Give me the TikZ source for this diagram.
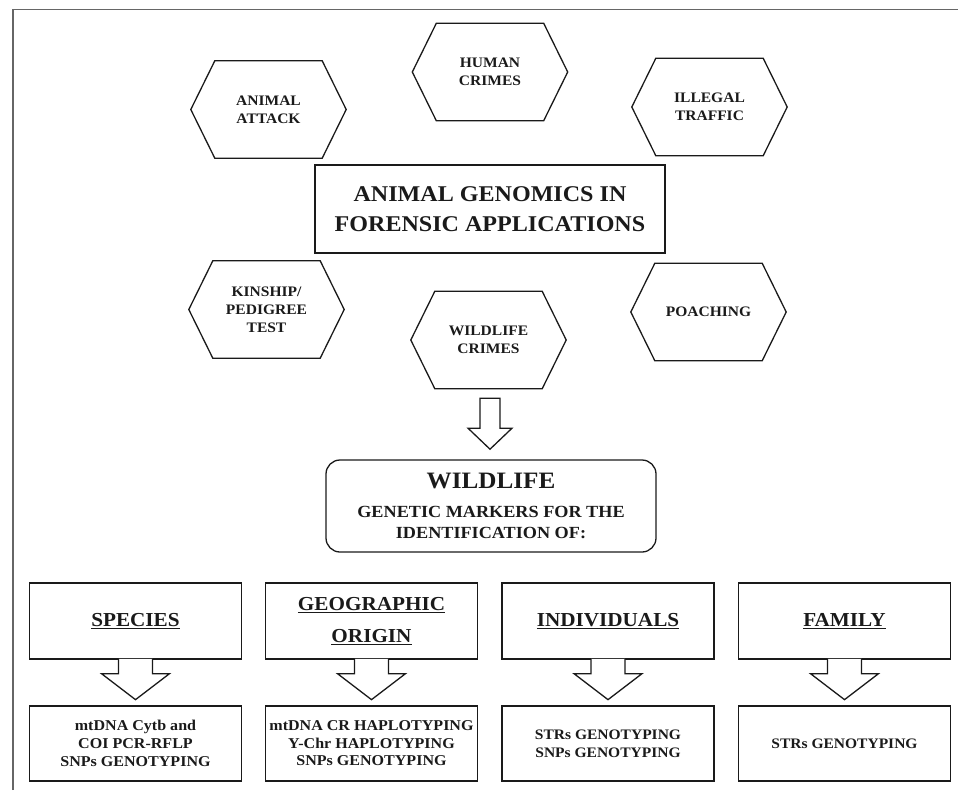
\documentclass[tikz,border=0pt]{standalone}
\usepackage{fontspec}
\setmainfont{Liberation Serif}[FakeStretch=1.07]
\usetikzlibrary{calc}
\definecolor{ink}{HTML}{1A1A1A}
\begin{document}
\begin{tikzpicture}[x=1pt,y=-1pt,line join=miter,
  hexa/.style={minimum width=155pt,minimum height=97pt,inner sep=0pt,align=center,
    text=ink,font=\bfseries\fontsize{14.5}{18}\selectfont},
  hexline/.style={draw=ink,line width=1.3pt},
  titlebox/.style={draw=ink,line width=2.8pt,minimum width=350pt,minimum height=88pt,
    inner sep=0pt,align=center,text=ink,font=\bfseries\fontsize{22.5}{30}\selectfont},
  wildbox/.style={draw=ink,line width=1.3pt,rounded corners=14pt,minimum width=330pt,
    minimum height=92pt,inner sep=0pt,align=center,text=ink,
    font=\bfseries\fontsize{17}{21}\selectfont},
  catbox/.style={draw=ink,line width=1.3pt,minimum width=212pt,minimum height=76pt,
    inner sep=0pt,align=center,text=ink,font=\bfseries\fontsize{19.8}{32}\selectfont},
  methbox/.style={draw=ink,line width=1.3pt,minimum width=212pt,minimum height=75pt,
    inner sep=0pt,align=center,text=ink,font=\bfseries\fontsize{15}{18}\selectfont},
  blockarrow/.style={draw=ink,line width=1.3pt}
]
\useasboundingbox (0,0) rectangle (958,790);
% frame
\draw[gray!80!black,line width=1.5pt] (13,790) -- (13,9.5) -- (958,9.5);

% hexagons
\node[hexa] (aa) at (268.5,109.5) {ANIMAL\\ATTACK};
\node[hexa] (hc) at (490,72) {HUMAN\\CRIMES};
\node[hexa] (it) at (709.5,107) {ILLEGAL\\TRAFFIC};
\node[hexa] (kp) at (266.5,309.5) {KINSHIP/\\PEDIGREE\\TEST};
\node[hexa] (wc) at (488.5,340) {WILDLIFE\\CRIMES};
\node[hexa] (po) at (708.5,312) {POACHING};
\foreach \n in {aa,hc,it,kp,wc,po}
  \draw[hexline] (\n.west) -- ($(\n.north west)+(24,0)$) -- ($(\n.north east)+(-24,0)$)
    -- (\n.east) -- ($(\n.south east)+(-24,0)$) -- ($(\n.south west)+(24,0)$) -- cycle;

% title
\node[titlebox] (tt) at (490,209) {ANIMAL GENOMICS IN\\FORENSIC APPLICATIONS};

% wildlife box
\node[wildbox] (wl) at (491,506) {{\fontsize{23.5}{26}\selectfont WILDLIFE}\\[8pt]GENETIC MARKERS FOR THE\\IDENTIFICATION OF:};

% arrow wildlife crimes -> wildlife
\coordinate (t1) at ($(wc.south)+(1.5,9.5)$);
\draw[blockarrow,fill=white] ($(t1)+(-10,0)$) -- ($(t1)+(-10,30)$) -- ($(t1)+(-22,30)$)
  -- ($(t1)+(0,51)$) -- ($(t1)+(22,30)$) -- ($(t1)+(10,30)$) -- ($(t1)+(10,0)$) -- cycle;

% categories
\node[catbox] (sp) at (135.5,621) {\underline{SPECIES}};
\node[catbox] (go) at (371.5,621) {\underline{GEOGRAPHIC}\\\underline{ORIGIN}};
\node[catbox] (in) at (608,621) {\underline{INDIVIDUALS}};
\node[catbox] (fa) at (844.5,621) {\underline{FAMILY}};

% methods
\node[methbox] (sp2) at (135.5,743.5) {mtDNA Cytb and\\COI PCR-RFLP\\SNPs GENOTYPING};
\node[methbox,font=\bfseries\fontsize{15}{17.5}\selectfont] (go2) at (371.5,743.5) {mtDNA CR HAPLOTYPING\\Y-Chr HAPLOTYPING\\SNPs GENOTYPING};
\node[methbox,font=\bfseries\fontsize{14.5}{18}\selectfont] (in2) at (608,743.5) {STRs GENOTYPING\\SNPs GENOTYPING};
\node[methbox,font=\bfseries\fontsize{14.5}{18}\selectfont] (fa2) at (844.5,743.5) {STRs GENOTYPING};

% merged block arrows
\foreach \c in {sp,go,in,fa} {
  \path[fill=white] ($(\c.south)+(-17,-0.8)$) -- ($(\c.south)+(-17,14)$) -- ($(\c.south)+(-34,14)$)
    -- ($(\c.south)+(0,40)$) -- ($(\c.south)+(34,14)$) -- ($(\c.south)+(17,14)$)
    -- ($(\c.south)+(17,-0.8)$) -- cycle;
  \draw[blockarrow] ($(\c.south)+(-17,-0.65)$) -- ($(\c.south)+(-17,14)$) -- ($(\c.south)+(-34,14)$)
    -- ($(\c.south)+(0,40)$) -- ($(\c.south)+(34,14)$) -- ($(\c.south)+(17,14)$)
    -- ($(\c.south)+(17,-0.65)$);
}
\end{tikzpicture}
\end{document}
